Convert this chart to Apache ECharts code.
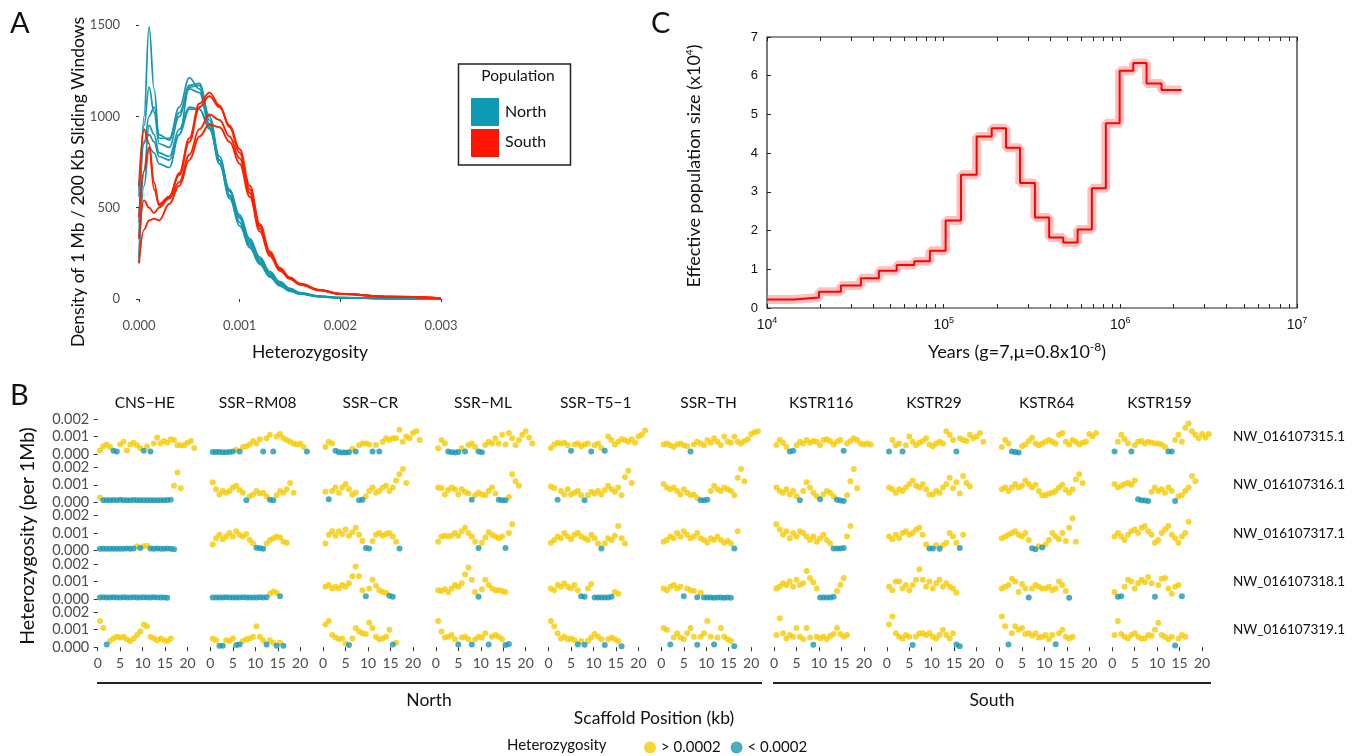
<!DOCTYPE html>
<html><head><meta charset="utf-8">
<script src="https://cdn.jsdelivr.net/npm/echarts@6/dist/echarts.min.js"></script>
<style>html,body{margin:0;padding:0;background:#fff}#c{width:1355px;height:756px}</style>
</head><body><div id="c"></div>
<script>
// ================= DATA =================
// Panel A: density of heterozygosity (x grid + one curve per sample)
const densX = [0, 0.00005, 0.0001, 0.00015, 0.0002, 0.0003, 0.0004, 0.0005, 0.0006, 0.0007, 0.0008, 0.0009, 0.001, 0.0011, 0.0012, 0.0013, 0.0014, 0.0015, 0.0016, 0.0018, 0.002, 0.0025, 0.003];
const densNorth = [
  [330, 1000, 1490, 1150, 880, 880, 1020, 1150, 1130, 950, 740, 560, 420, 300, 200, 125, 75, 45, 28, 12, 6, 2, 0],
  [560, 950, 1160, 1020, 850, 830, 1000, 1170, 1180, 1000, 780, 590, 440, 310, 210, 135, 80, 48, 30, 14, 7, 2, 0],
  [420, 850, 1000, 1050, 900, 870, 1050, 1210, 1150, 960, 740, 550, 400, 280, 190, 120, 72, 42, 26, 12, 6, 2, 0],
  [230, 700, 950, 900, 800, 780, 930, 1050, 1040, 940, 760, 600, 460, 330, 230, 150, 95, 58, 35, 16, 8, 2, 0],
  [600, 860, 900, 860, 780, 760, 900, 1040, 1040, 930, 760, 590, 450, 320, 220, 140, 88, 52, 32, 15, 7, 2, 0],
  [200, 620, 830, 800, 740, 720, 900, 1160, 1170, 980, 760, 570, 420, 290, 195, 125, 76, 45, 28, 13, 6, 2, 0]
];
const densSouth = [
  [620, 930, 850, 600, 520, 560, 690, 880, 1070, 1130, 1060, 940, 800, 600, 400, 250, 165, 115, 82, 48, 28, 12, 4],
  [450, 700, 830, 640, 510, 560, 680, 860, 1050, 1110, 1050, 950, 820, 620, 410, 260, 170, 118, 84, 50, 29, 12, 4],
  [330, 540, 500, 470, 500, 550, 640, 790, 930, 1010, 980, 890, 770, 580, 385, 245, 160, 112, 80, 48, 27, 12, 4],
  [195, 380, 430, 440, 430, 520, 620, 760, 890, 955, 940, 860, 740, 560, 370, 235, 155, 110, 78, 47, 27, 12, 4]
];
const densTicksX = [0, 0.001, 0.002, 0.003];

// Panel C: PSMC (step start in years, Ne in units of 10^4)
const psmcYears = [1e4, 14200, 19700, 26200, 34000, 43000, 54200, 68200, 83600, 102600, 125300, 153700, 187000, 225500, 270500, 328500, 395500, 475000, 573000, 690000, 828000, 991000, 1184000, 1407000, 1710000, 2222000];
const psmcNe = [0.22, 0.27, 0.42, 0.58, 0.77, 0.96, 1.11, 1.21, 1.48, 2.26, 3.44, 4.43, 4.64, 4.14, 3.23, 2.34, 1.82, 1.69, 2.03, 3.09, 4.77, 6.13, 6.33, 5.80, 5.63, 5.63];
const psmcMajor = [1e4, 1e5, 1e6, 1e7];

// Panel B: heterozygosity in sliding windows (units of 1e-5), one row per scaffold
const samples = ['CNS\u2212HE', 'SSR\u2212RM08', 'SSR\u2212CR', 'SSR\u2212ML', 'SSR\u2212T5\u22121', 'SSR\u2212TH', 'KSTR116', 'KSTR29', 'KSTR64', 'KSTR159'];
const scaffolds = ['NW_016107315.1', 'NW_016107316.1', 'NW_016107317.1', 'NW_016107318.1', 'NW_016107319.1'];
const winStart = 0.5, winStep = 0.75;   // window positions along the scaffold
const hetThreshold = 20;                // 0.0002
const het315 = [
  [20,45,55,40,18,15,55,70,20,55,65,50,35,18,45,15,60,95,60,75,65,85,80,50,50,50,65,75,35],
  [12,12,12,10,10,11,14,25,15,40,45,55,75,60,85,15,90,110,15,100,115,90,80,70,60,55,60,40,14],
  [40,70,60,18,10,8,8,10,30,15,50,60,60,55,15,52,15,70,90,80,90,90,138,70,100,90,120,130,80],
  [33,80,60,15,10,8,12,33,15,52,60,40,15,10,52,70,60,90,60,110,55,120,90,50,80,110,130,95,60],
  [35,55,65,60,65,50,18,55,60,45,55,60,15,50,60,35,18,100,80,55,70,85,80,70,85,65,100,110,135],
  [55,60,50,40,55,60,50,45,15,55,70,60,50,80,65,90,70,50,100,70,65,100,70,60,75,85,115,125,130],
  [52,80,65,40,15,18,50,70,60,80,65,75,70,50,80,85,75,55,70,80,18,60,75,90,80,60,55,60,55],
  [15,80,50,60,15,50,100,70,50,65,75,90,55,45,60,70,60,130,110,80,15,90,80,75,110,90,100,120,70],
  [40,80,60,15,12,8,45,55,75,95,60,50,60,70,80,70,60,110,120,70,55,80,70,55,65,70,115,100,120],
  [15,70,110,85,60,15,50,70,75,60,70,65,60,60,55,40,15,15,80,110,70,150,175,130,110,90,115,95,115]
];
const het316 = [
  [27,12,12,12,13,12,14,12,12,12,13,12,12,12,12,12,12,12,12,12,13,15,95,170,80],
  [115,75,45,65,55,65,85,95,70,55,12,35,45,65,50,55,35,15,12,40,65,55,75,110,55],
  [60,17,65,85,55,85,105,75,45,55,12,15,35,65,85,55,65,85,95,65,85,125,160,190,110],
  [85,80,45,70,85,75,45,75,60,50,15,40,55,45,40,65,85,50,15,12,12,30,160,120,95],
  [90,80,15,65,45,75,45,55,65,40,12,40,60,50,65,45,70,95,75,60,85,40,145,180,110],
  [105,85,75,85,65,45,75,55,40,45,25,12,12,15,65,95,75,65,85,75,65,40,140,190,120],
  [85,65,55,75,45,65,35,12,65,115,85,55,35,17,45,65,55,35,15,10,8,40,120,190,80],
  [85,75,55,75,65,85,105,125,95,85,105,75,45,45,65,55,85,105,140,80,115,50,150,110,90],
  [75,85,65,85,105,85,95,125,105,85,100,65,40,40,50,55,65,85,100,70,55,75,130,160,110],
  [105,85,95,105,110,100,125,18,12,10,8,60,85,65,75,55,85,65,8,35,40,65,85,150,120]
];
const het317 = [
  [10,10,10,10,10,10,10,10,12,10,12,25,15,25,28,12,10,12,10,10,12,10,8],
  [35,70,90,65,80,100,80,110,90,80,95,60,40,17,14,10,40,60,70,80,75,50,45],
  [40,90,110,85,110,95,120,85,105,130,90,55,15,12,55,90,100,85,95,100,80,50,12],
  [50,80,85,80,85,100,85,110,130,100,80,50,15,45,75,105,90,80,70,80,15,100,150],
  [45,60,80,70,100,80,65,90,100,80,70,60,90,70,40,12,40,70,60,85,140,70,40],
  [50,60,80,70,100,80,110,90,70,80,100,70,60,45,70,60,80,60,45,55,40,12,110],
  [150,120,90,110,70,100,80,110,100,80,60,80,50,70,90,60,40,12,12,12,15,80,140],
  [80,65,90,70,100,110,90,100,120,130,90,35,12,12,30,10,30,45,100,80,45,15,90],
  [70,80,90,100,110,90,80,100,60,14,8,25,18,35,60,100,80,65,100,55,130,185,50],
  [80,100,80,60,90,110,120,100,130,140,110,90,45,60,100,120,140,90,70,45,80,100,165]
];
const het318 = [
  [8,9,8,8,9,8,8,9,8,8,9,8,8,9,8,8,9,8,8,8,6],
  [8,8,8,8,9,8,8,8,8,9,8,8,8,8,9,8,10,30,42,35,15],
  [70,80,60,70,60,80,70,90,130,185,130,50,15,60,110,75,50,40,35,18,12],
  [50,45,55,40,60,80,70,90,140,180,110,40,12,55,110,80,60,50,50,45,40],
  [60,50,80,70,90,70,60,80,50,15,12,60,85,8,8,8,8,8,12,40,30],
  [60,50,70,80,60,70,15,60,50,45,10,35,8,8,8,7,8,8,7,8,6],
  [60,70,90,80,100,70,110,80,90,160,120,95,60,8,8,8,8,12,45,80,120],
  [70,50,100,100,60,80,50,80,110,170,110,70,100,60,90,110,70,90,70,60,35],
  [60,70,80,115,100,40,85,60,8,60,80,70,60,60,70,50,60,100,80,45,6],
  [40,12,15,70,110,100,60,90,110,95,125,90,12,80,115,120,60,30,70,80,15]
];
const het319 = [
  [150,110,15,35,50,60,55,60,45,35,50,70,90,130,120,60,50,40,50,40,35,50],
  [50,40,8,8,40,35,50,12,15,35,45,50,60,120,60,40,15,40,25,8,25,8],
  [130,150,70,55,45,50,20,12,50,110,90,80,75,140,110,60,45,50,60,100,15,25],
  [150,90,55,60,70,45,15,55,60,45,15,45,60,55,80,15,60,70,60,45,12,18],
  [150,120,80,50,60,45,50,40,15,35,14,35,55,75,60,45,12,45,55,45,35,5],
  [110,100,15,55,80,55,45,80,110,60,14,60,80,150,60,15,55,110,60,45,35,5],
  [70,165,80,50,70,60,110,60,45,110,55,14,60,50,60,45,65,75,110,75,60,70],
  [130,175,80,60,50,70,60,12,60,80,80,70,80,60,50,70,100,70,50,80,15,5],
  [175,120,15,80,120,100,110,75,80,65,80,55,60,70,45,70,17,80,100,60,50,60],
  [70,150,75,60,50,70,80,60,50,50,70,65,100,140,70,60,45,60,10,50,70,60]
];
const hetRows = [het315, het316, het317, het318, het319];
const bTicksX = [0, 5, 10, 15, 20];
const bTicksY = [0, 100, 200];

// ================= STYLE / LAYOUT =================
const FONT = 'Lato';
const YEL = '#F6CB05', TEAL = '#1A97B3', NCOL = '#1797B0', SCOL = '#FF2000';
const GRAY = '#4d4d4d';

const chart = echarts.init(document.getElementById('c'), null, {renderer: 'canvas', width: 1355, height: 756});
const grid = [], xAxis = [], yAxis = [], series = [], graphic = [];

// ---------- Panel A ----------
grid.push({left: 139, top: 25, width: 302, height: 274});
xAxis.push({gridIndex: 0, type: 'value', min: 0, max: 0.003, offset: 14,
  axisLine: {show: false}, splitLine: {show: false},
  axisTick: {show: true, length: 3, customValues: densTicksX, lineStyle: {color: '#333'}},
  axisLabel: {customValues: densTicksX, color: GRAY, fontSize: 13, fontFamily: FONT, margin: 6, formatter: v => v.toFixed(3)}});
yAxis.push({gridIndex: 0, type: 'value', min: 0, max: 1500, interval: 500, offset: 14,
  axisLine: {show: false}, splitLine: {show: false},
  axisTick: {show: true, length: 3, lineStyle: {color: '#333'}},
  axisLabel: {color: GRAY, fontSize: 13, fontFamily: FONT, margin: 5, formatter: v => String(v)}});
densNorth.forEach(arr => series.push({type: 'line', name: 'North', xAxisIndex: 0, yAxisIndex: 0, silent: true,
  data: densX.map((x, i) => [x, arr[i]]), smooth: 0.4, smoothMonotone: 'x', showSymbol: false,
  lineStyle: {color: NCOL, width: 1.7}, itemStyle: {color: NCOL}}));
densSouth.forEach(arr => series.push({type: 'line', name: 'South', xAxisIndex: 0, yAxisIndex: 0, silent: true,
  data: densX.map((x, i) => [x, arr[i]]), smooth: 0.4, smoothMonotone: 'x', showSymbol: false,
  lineStyle: {color: SCOL, width: 1.9}, itemStyle: {color: SCOL}}));

// ---------- Panel C ----------
const cMinor = [];
for (let d = 1e4; d < 1e7; d *= 10) for (let k = 1; k <= 9; k++) cMinor.push(k * d);
cMinor.push(1e7);
grid.push({left: 767, top: 37, width: 530, height: 271, show: true, borderColor: '#222', borderWidth: 1.2});
const cLabelFmt = v => '10{s|' + Math.round(Math.log10(v)) + '}';
xAxis.push({gridIndex: 1, type: 'log', logBase: 10, min: 1e4, max: 1e7, position: 'bottom',
  axisLine: {show: false}, splitLine: {show: false}, minorTick: {show: false},
  axisTick: {show: true, inside: true, length: 4, customValues: cMinor, lineStyle: {color: '#222'}},
  axisLabel: {customValues: psmcMajor, formatter: cLabelFmt, color: '#111', fontSize: 14, fontFamily: 'Liberation Sans', margin: 8,
    lineHeight: 18, rich: {s: {fontSize: 9, fontFamily: 'Liberation Sans', color: '#111', verticalAlign: 'top', lineHeight: 18, padding: [0, 0, 8, 0]}}}});
xAxis.push({gridIndex: 1, type: 'log', logBase: 10, min: 1e4, max: 1e7, position: 'top',
  axisLine: {show: false}, splitLine: {show: false},
  axisTick: {show: true, inside: true, length: 4, customValues: cMinor, lineStyle: {color: '#222'}},
  axisLabel: {show: false}});
yAxis.push({gridIndex: 1, type: 'value', min: 0, max: 7, interval: 1,
  axisLine: {show: false}, splitLine: {show: false},
  axisTick: {show: true, inside: true, length: 4, lineStyle: {color: '#222'}},
  axisLabel: {color: '#111', fontSize: 13, fontFamily: 'Liberation Sans', margin: 9}});
const psmcData = psmcYears.map((t, i) => [t, psmcNe[i]]);
series.push({type: 'line', xAxisIndex: 1, yAxisIndex: 1, step: 'end', data: psmcData, showSymbol: false, silent: true,
  lineStyle: {color: 'rgba(255,130,130,0.5)', width: 9}});
series.push({type: 'line', xAxisIndex: 2, yAxisIndex: 1, step: 'end', data: psmcData, showSymbol: false, silent: true,
  lineStyle: {color: '#FF0000', width: 2}});

// ---------- Panel B ----------
const B_X0 = 97.7, B_DX = 112.73, B_PX = 4.49, B_ZERO = 454, B_DY = 48.3, B_PY = 0.175;
const B_YMIN = -31, B_YMAX = 230, B_XMIN = -1, B_XMAX = 22;
hetRows.forEach((row, r) => row.forEach((vals, c) => {
  const gi = grid.length, xi = xAxis.length, yi = yAxis.length;
  const zero = B_ZERO + B_DY * r;
  grid.push({left: B_X0 + B_DX * c + B_XMIN * B_PX, width: (B_XMAX - B_XMIN) * B_PX,
    top: zero - B_YMAX * B_PY, height: (B_YMAX - B_YMIN) * B_PY});
  xAxis.push({gridIndex: gi, type: 'value', min: B_XMIN, max: B_XMAX,
    axisLine: {show: false}, splitLine: {show: false},
    axisTick: {show: r === 4, length: 4, customValues: bTicksX, lineStyle: {color: '#333'}},
    axisLabel: {show: r === 4, customValues: bTicksX, color: GRAY, fontSize: 14, fontFamily: FONT, margin: 4}});
  yAxis.push({gridIndex: gi, type: 'value', min: B_YMIN, max: B_YMAX,
    axisLine: {show: false}, splitLine: {show: false},
    axisTick: {show: c === 0, length: 4, customValues: bTicksY, lineStyle: {color: '#333'}},
    axisLabel: {show: c === 0, customValues: bTicksY, color: GRAY, fontSize: 14.5, fontFamily: FONT, margin: 4,
      formatter: v => (v / 1e5).toFixed(3)}});
  const hi = [], lo = [];
  vals.forEach((v, i) => { const p = [winStart + winStep * i, v]; (v < hetThreshold ? lo : hi).push(p); });
  series.push({type: 'scatter', name: '> 0.0002', xAxisIndex: xi, yAxisIndex: yi, data: hi, symbolSize: 6, silent: true, itemStyle: {color: YEL}});
  series.push({type: 'scatter', name: '< 0.0002', xAxisIndex: xi, yAxisIndex: yi, data: lo, symbolSize: 6, silent: true, itemStyle: {color: TEAL}});
}));

// ---------- Text / annotations ----------
function txt(text, x, y, size, opt) {
  opt = opt || {};
  return {type: 'text', x: x, y: y, rotation: opt.rot || 0, silent: true,
    style: {text: text, fontSize: size, fontFamily: opt.font || FONT, fill: opt.color || '#111',
      align: opt.align || 'center', verticalAlign: 'middle', rich: opt.rich}};
}
graphic.push(txt('A', 10, 24, 29, {align: 'left'}));
graphic.push(txt('B', 10, 396, 29, {align: 'left'}));
graphic.push(txt('C', 651, 24, 29, {align: 'left'}));
graphic.push(txt('Density of 1 Mb / 200 Kb Sliding Windows', 78, 182, 17.5, {rot: Math.PI / 2}));
graphic.push(txt('Heterozygosity', 310, 352, 17.5));
// legend A
graphic.push({type: 'rect', silent: true, shape: {x: 458.5, y: 64, width: 112, height: 101}, style: {fill: 'none', stroke: '#222', lineWidth: 1.5}});
graphic.push(txt('Population', 518, 76, 15.5));
graphic.push({type: 'rect', silent: true, shape: {x: 471, y: 98, width: 28, height: 28}, style: {fill: '#0E9AB5'}});
graphic.push({type: 'rect', silent: true, shape: {x: 471, y: 129, width: 28, height: 28}, style: {fill: '#FF1500'}});
graphic.push(txt('North', 505, 112, 16, {align: 'left'}));
graphic.push(txt('South', 505, 142, 16, {align: 'left'}));
// C titles
graphic.push(txt('Effective population size (x10{s|4})', 694, 166, 18, {rot: Math.PI / 2,
  rich: {s: {fontSize: 10, fontFamily: FONT, fill: '#111', verticalAlign: 'top', padding: [0, 0, 9, 0]}}}));
graphic.push(txt('Years (g=7,\u03bc=0.8x10{s|-8})', 1017, 352, 18,
  {rich: {s: {fontSize: 12, fontFamily: FONT, fill: '#111', verticalAlign: 'top', padding: [0, 0, 9, 0]}}}));
// B strips and row labels
samples.forEach((s, c) => graphic.push(txt(s, B_X0 + B_DX * c + 10.5 * B_PX, 403, 15.5)));
scaffolds.forEach((s, r) => graphic.push(txt(s, 1233, B_ZERO + B_DY * r - 17.3, 13.5, {align: 'left'})));
graphic.push(txt('Heterozygosity (per 1Mb)', 28, 536, 19.5, {rot: Math.PI / 2}));
graphic.push({type: 'line', silent: true, shape: {x1: 97, y1: 683, x2: 762, y2: 683}, style: {stroke: '#222', lineWidth: 2}});
graphic.push({type: 'line', silent: true, shape: {x1: 773, y1: 683, x2: 1211, y2: 683}, style: {stroke: '#222', lineWidth: 2}});
graphic.push(txt('North', 429, 700, 17.5));
graphic.push(txt('South', 992, 700, 17.5));
graphic.push(txt('Scaffold Position (kb)', 654, 718, 17.5));
graphic.push(txt('Heterozygosity', 507, 745, 15, {align: 'left'}));

chart.setOption({
  animation: false,
  backgroundColor: '#fff',
  textStyle: {fontFamily: FONT},
  grid: grid, xAxis: xAxis, yAxis: yAxis, series: series, graphic: graphic,
  legend: [{data: ['> 0.0002', '< 0.0002'], left: 639, top: 735, icon: 'circle', itemWidth: 12, itemHeight: 12, itemGap: 10,
    selectedMode: false, textStyle: {fontSize: 15, fontFamily: FONT, color: '#111'}}]
});
</script>
</body></html>
